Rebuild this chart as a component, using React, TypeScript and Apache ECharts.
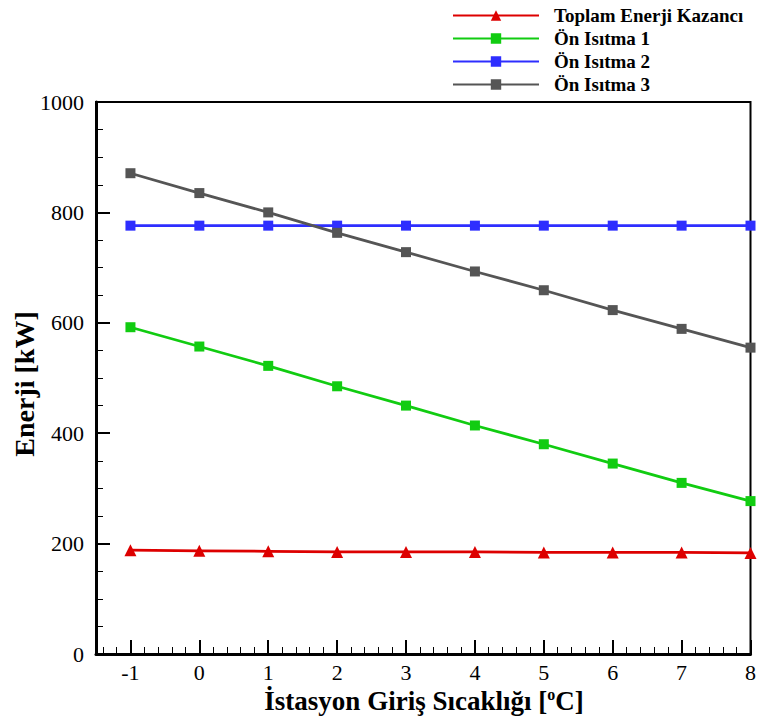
import React, { useEffect, useRef } from "react";
import * as echarts from "echarts";

const xValues = [-1, 0, 1, 2, 3, 4, 5, 6, 7, 8];
const toplamEnerji = [188, 187, 186, 185, 185, 185, 184, 184, 184, 183];
const onIsitma1 = [592, 557, 522, 485, 450, 414, 380, 345, 310, 277];
const onIsitma2 = [776, 776, 776, 776, 776, 776, 776, 776, 776, 776];
const onIsitma3 = [871, 835, 800, 763, 728, 693, 659, 623, 589, 555];
const xMajorTicks = [-1, 0, 1, 2, 3, 4, 5, 6, 7, 8];
const xMinorTicks = [
  -1.4, -1.2, -0.8, -0.6, -0.4, -0.2, 0.2, 0.4, 0.6, 0.8, 1.2, 1.4, 1.6, 1.8,
  2.2, 2.4, 2.6, 2.8, 3.2, 3.4, 3.6, 3.8, 4.2, 4.4, 4.6, 4.8, 5.2, 5.4, 5.6, 5.8,
  6.2, 6.4, 6.6, 6.8, 7.2, 7.4, 7.6, 7.8,
];

const FONT = "'Liberation Serif', 'Times New Roman', serif";

export default function App() {
  const ref = useRef<HTMLDivElement>(null);
  useEffect(() => {
    if (!ref.current) return;
    const chart = echarts.init(ref.current, null, { renderer: "svg" });
    const mk = (name: string, data: number[], color: string, symbol: string, size: number) => ({
      name,
      type: "line",
      xAxisIndex: 0,
      data: xValues.map((x, i) => [x, data[i]]),
      symbol,
      symbolSize: size,
      lineStyle: { color, width: 2.75 },
      itemStyle: { color },
      z: 3,
    });
    chart.setOption({
      animation: false,
      backgroundColor: "#fff",
      textStyle: { fontFamily: FONT },
      grid: {
        left: 96,
        right: 3.5,
        top: 102,
        bottom: 68,
        show: true,
        borderColor: "#000",
        borderWidth: 2,
        backgroundColor: "transparent",
      },
      legend: {
        orient: "vertical",
        left: 452,
        top: 6,
        padding: 0,
        itemWidth: 86,
        itemHeight: 13,
        itemGap: 4,
        textStyle: {
          fontFamily: FONT,
          fontWeight: "bold",
          fontSize: 19,
          lineHeight: 19,
          color: "#000",
          padding: [0, 0, 0, 10],
        },
        data: ["Toplam Enerji Kazancı", "Ön Isıtma 1", "Ön Isıtma 2", "Ön Isıtma 3"],
      },
      xAxis: [
        {
          type: "value",
          min: -1.5,
          max: 8,
          splitLine: { show: false },
          axisLine: { onZero: false, lineStyle: { color: "#000", width: 3 } },
          axisTick: {
            inside: true,
            length: 14,
            lineStyle: { color: "#000", width: 2 },
            customValues: xMajorTicks,
          },
          axisLabel: {
            customValues: xMajorTicks,
            fontFamily: FONT,
            fontSize: 22,
            color: "#000",
            margin: 7,
            formatter: (v: number) => String(v),
          },
        },
        {
          type: "value",
          min: -1.5,
          max: 8,
          position: "bottom",
          splitLine: { show: false },
          axisLine: { show: false, onZero: false },
          axisTick: {
            inside: true,
            length: 7,
            lineStyle: { color: "#000", width: 1 },
            customValues: xMinorTicks,
          },
          axisLabel: { show: false },
        },
      ],
      yAxis: {
        type: "value",
        min: 0,
        max: 1000,
        interval: 200,
        splitLine: { show: false },
        axisLine: { show: true, onZero: false, lineStyle: { color: "#000", width: 3 } },
        axisTick: { show: true, inside: true, length: 14, lineStyle: { color: "#000", width: 2 } },
        minorTick: { show: true, splitNumber: 4, length: 7, lineStyle: { color: "#000", width: 1 } },
        axisLabel: {
          fontFamily: FONT,
          fontSize: 22,
          color: "#000",
          margin: 12,
          formatter: (v: number) => String(v),
        },
      },
      graphic: [
        {
          type: "text",
          x: 24,
          y: 384,
          rotation: Math.PI / 2,
          style: {
            text: "Enerji [kW]",
            fontFamily: FONT,
            fontWeight: "bold",
            fontSize: 28,
            fill: "#000",
            align: "center",
            verticalAlign: "middle",
          },
        },
        {
          type: "text",
          x: 424,
          y: 701,
          style: {
            text: "İstasyon Giriş Sıcaklığı [{sup|o}C]",
            fontFamily: FONT,
            fontWeight: "bold",
            fontSize: 27,
            fill: "#000",
            align: "center",
            verticalAlign: "middle",
            rich: {
              sup: { fontFamily: FONT, fontWeight: "bold", fontSize: 16, fill: "#000", padding: [0, 0, 14, 0] },
            },
          },
        },
      ],
      series: [
        mk("Toplam Enerji Kazancı", toplamEnerji, "#dd0000", "triangle", 12),
        mk("Ön Isıtma 1", onIsitma1, "#11cc11", "rect", 10),
        mk("Ön Isıtma 2", onIsitma2, "#2e2eff", "rect", 10),
        mk("Ön Isıtma 3", onIsitma3, "#555555", "rect", 10),
      ],
    });
    return () => chart.dispose();
  }, []);
  return (
    <div
      ref={ref}
      style={{ position: "fixed", left: 0, top: 0, width: 759, height: 722 }}
    />
  );
}
